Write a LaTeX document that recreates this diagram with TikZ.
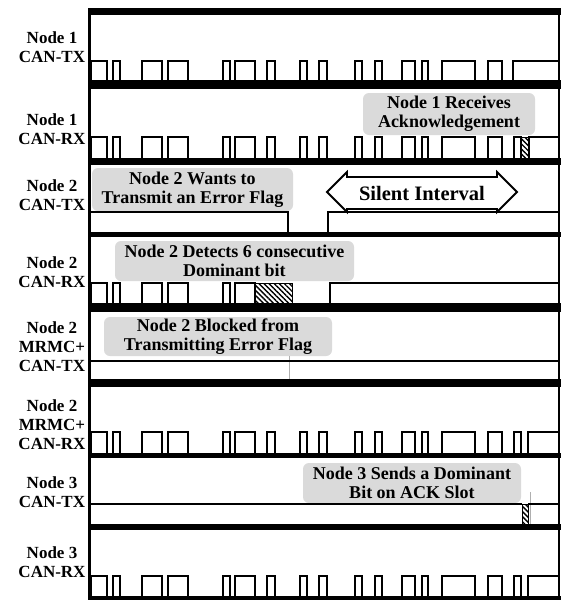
\documentclass[tikz,border=0pt]{standalone}
\usepackage{fontspec}
\setmainfont{Liberation Serif}
\usetikzlibrary{patterns.meta}
\definecolor{callgray}{RGB}{218,218,218}
\definecolor{ptrgray}{RGB}{175,175,175}
\newcommand\canpulses[3]{%
  \foreach \a/\b in #3 {\draw[wave] (\a,#2) -- (\a,#1) -- (\b,#1) -- (\b,#2);}}
\def\pA{91/107,113/120,142/162,168/188,223/230,235/255}
\def\pB{267/275,300/307,319/327,355/362,375/382,402/415,422/428,442/475,488/502}
\begin{document}
\begin{tikzpicture}[x=1pt,y=-1pt,
  wave/.style={line width=1.8pt, line join=miter},
  lbl/.style={font=\fontsize{17}{19}\selectfont\bfseries, align=center, inner sep=0pt},
  callout/.style={fill=callgray, rounded corners=6pt, align=center, inner sep=0pt,
    font=\fontsize{18}{19}\selectfont\bfseries},
  hatchfill/.style={pattern={Lines[angle=-45,distance=3.6pt,line width=1.4pt]}},
  ptr/.style={draw=ptrgray, line width=0.8pt}]
\useasboundingbox (0,0) rectangle (561,600);
\fill[white] (0,0) rectangle (561,600);

% callout boxes (behind waveforms)
\node[callout, minimum width=172pt, minimum height=42pt] (c1) at (449,114) {Node 1 Receives\\Acknowledgement};
\node[callout, minimum width=201pt, minimum height=43pt] (c2) at (192.5,189.5) {Node 2 Wants to\\Transmit an Error Flag};
\node[callout, minimum width=239pt, minimum height=40pt] (c3) at (234.5,261) {Node 2 Detects 6 consecutive\\Dominant bit};
\node[callout, minimum width=228pt, minimum height=39pt] (c4) at (218,336.5) {Node 2 Blocked from\\Transmitting Error Flag};
\node[callout, minimum width=218pt, minimum height=40pt] (c5) at (412,483) {Node 3 Sends a Dominant\\Bit on ACK Slot};

% pointer remnants
\coordinate (p4) at (289,379);
\draw[ptr] (c4.south -| p4) -- (p4);
\coordinate (p5a) at (530,492);
\coordinate (p5b) at (530,524);
\draw[ptr] (p5a) -- (p5b);

% Row 1: Node 1 CAN-TX
\canpulses{61}{81}{\pA}
\canpulses{61}{81}{\pB}
\draw[wave] (513,81) -- (513,61) -- (558,61);
% Row 2: Node 1 CAN-RX
\canpulses{137}{159}{\pA}
\canpulses{137}{159}{\pB}
\draw[wave] (514,159) -- (514,137) -- (521,137) -- (521,159);
\draw[hatchfill] (521,137) rectangle (529,158);
\draw[wave] (529,159) -- (529,137) -- (558,137);
% Row 3: Node 2 CAN-TX
\draw[wave] (91,212) -- (288,212) -- (288,233) -- (328,233) -- (328,212) -- (558,212);
% Row 4: Node 2 CAN-RX
\canpulses{283}{304}{\pA}
\draw[hatchfill] (255,283) rectangle (292,303);
\draw[wave] (292,304) -- (330,304) -- (330,283) -- (558,283);
% Row 5: Node 2 MRMC+ CAN-TX
\draw[wave] (91,361) -- (558,361);
% Row 6: Node 2 MRMC+ CAN-RX
\canpulses{432}{454}{\pA}
\canpulses{432}{454}{\pB}
\draw[wave] (514,454) -- (514,432) -- (521,432) -- (521,454) -- (528,454) -- (528,432) -- (558,432);
% Row 7: Node 3 CAN-TX
\draw[wave] (91,504) -- (522,504);
\draw[hatchfill, line width=1pt] (522,504) rectangle (528,524);
\draw[wave] (528,504) -- (558,504);
% Row 8: Node 3 CAN-RX
\canpulses{576}{597}{\pA}
\canpulses{576}{597}{\pB}
\draw[wave] (514,597) -- (514,576) -- (521,576) -- (521,597) -- (528,597) -- (528,576) -- (558,576);

% frame and separator bars
\fill (88,8) rectangle (561,15);
\fill (88,80) rectangle (561,89);
\fill (88,158) rectangle (561,165);
\fill (88,232) rectangle (561,237);
\fill (88,303) rectangle (561,312);
\fill (88,379) rectangle (561,387);
\fill (88,453) rectangle (561,458);
\fill (88,524) rectangle (561,530);
\fill (88,596) rectangle (561,600);
\fill (88,8) rectangle (91,600);
\draw[line width=2pt] (559,8) -- (559,600);

% Silent interval double arrow
\draw[line width=1.8pt, fill=white, line join=miter]
  (327,192) -- (347,172) -- (347,177) -- (497,177) -- (497,172) -- (517,192)
  -- (497,212) -- (497,209) -- (347,209) -- (347,212) -- cycle;
\node[font=\fontsize{20.5}{22}\selectfont\bfseries, inner sep=0pt] (si) at (422,193) {Silent Interval};

% row labels
\node[lbl] (l1) at (52,47.5) {Node 1\\CAN-TX};
\node[lbl] (l2) at (52,129) {Node 1\\CAN-RX};
\node[lbl] (l3) at (52,195.5) {Node 2\\CAN-TX};
\node[lbl] (l4) at (52,272) {Node 2\\CAN-RX};
\node[lbl] (l5) at (52,347) {Node 2\\MRMC+\\CAN-TX};
\node[lbl] (l6) at (52,425) {Node 2\\MRMC+\\CAN-RX};
\node[lbl] (l7) at (52,492.5) {Node 3\\CAN-TX};
\node[lbl] (l8) at (52,562) {Node 3\\CAN-RX};
\end{tikzpicture}
\end{document}
